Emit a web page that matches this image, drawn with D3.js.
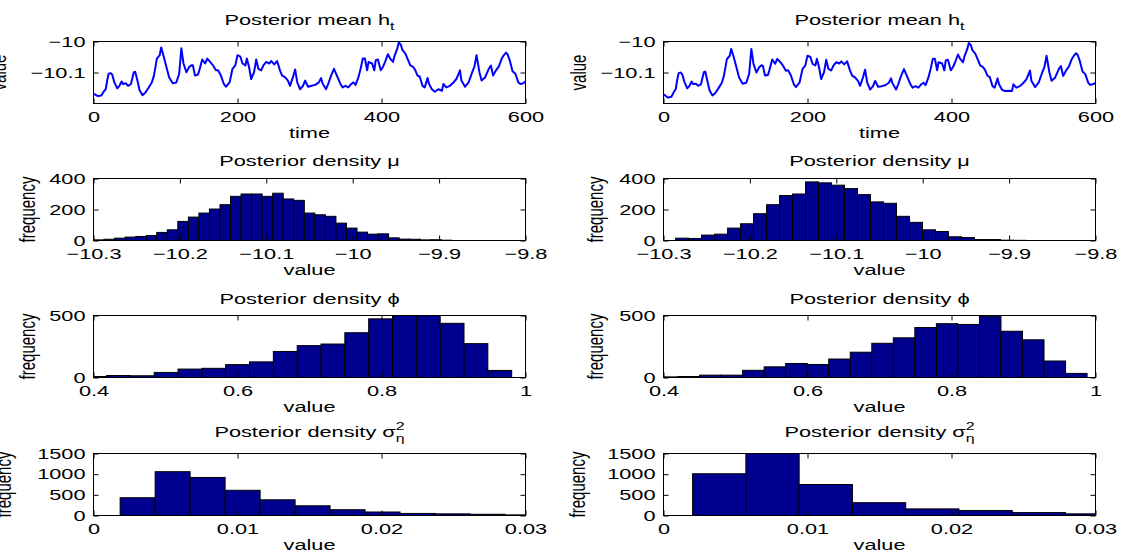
<!DOCTYPE html>
<html>
<head>
<meta charset="utf-8">
<script src="https://cdn.jsdelivr.net/npm/d3@7"></script>
<style>
  html, body { margin: 0; padding: 0; background: #fff; overflow: hidden; }
  svg { display: block; }
  text { font-family: "Liberation Sans", Arial, Helvetica, sans-serif; fill: #000; }
</style>
</head>
<body>
<svg id="fig" width="1128" height="553"></svg>
<script>
// ---- posterior mean of the log-volatility path ----
const timeSteps = [0,6,11,15,17,19,21,24,26,29,33,36,39,41,45,48,52,56,58,61,64,68,72,76,81,84,88,92,94,97,
  100,105,110,115,119,122,125,129,133,136,138,141,145,147,151,155,158,162,166,170,173,177,181,184,189,193,197,
  200,204,207,211,213,216,219,223,226,229,233,236,240,244,247,251,255,259,262,266,270,273,277,280,283,287,291,294,298,
  303,308,313,316,318,323,326,330,334,338,343,346,350,354,358,361,364,368,371,374,377,380,382,387,390,392,395,399,
  402,405,409,412,416,418,422,424,427,429,433,437,440,444,447,450,453,457,460,464,466,470,474,479,484,486,490,495,
  500,504,509,511,516,521,526,529,532,536,539,544,549,552,555,559,563,567,570,573,575,578,582,586,590,593,597,600];

const hMeanLeft = [-10.168,-10.176,-10.174,-10.159,-10.154,-10.126,-10.104,-10.102,-10.107,-10.132,-10.151,-10.143,-10.129,-10.137,-10.135,-10.143,-10.137,-10.099,-10.098,-10.126,-10.157,-10.173,-10.165,-10.151,-10.132,-10.110,-10.055,-10.044,-10.019,-10.044,
  -10.071,-10.115,-10.135,-10.132,-10.104,-10.022,-10.071,-10.099,-10.082,-10.077,-10.077,-10.110,-10.107,-10.093,-10.058,-10.071,-10.055,-10.066,-10.077,-10.093,-10.093,-10.110,-10.137,-10.146,-10.132,-10.088,-10.077,
  -10.044,-10.049,-10.071,-10.077,-10.055,-10.082,-10.121,-10.099,-10.058,-10.088,-10.093,-10.077,-10.066,-10.071,-10.063,-10.074,-10.063,-10.093,-10.110,-10.115,-10.126,-10.143,-10.115,-10.090,-10.132,-10.154,-10.143,-10.126,-10.146,
  -10.143,-10.140,-10.132,-10.118,-10.135,-10.154,-10.137,-10.110,-10.088,-10.110,-10.137,-10.148,-10.143,-10.148,-10.137,-10.132,-10.140,-10.115,-10.088,-10.055,-10.055,-10.093,-10.066,-10.071,-10.093,-10.060,-10.058,-10.093,
  -10.082,-10.066,-10.041,-10.055,-10.066,-10.047,-10.022,-10.003,-10.011,-10.027,-10.038,-10.060,-10.077,-10.082,-10.093,-10.110,-10.113,-10.143,-10.148,-10.118,-10.137,-10.154,-10.162,-10.154,-10.159,-10.137,-10.148,-10.143,
  -10.132,-10.121,-10.093,-10.126,-10.146,-10.132,-10.099,-10.082,-10.044,-10.099,-10.126,-10.115,-10.088,-10.078,-10.110,-10.093,-10.080,-10.055,-10.044,-10.036,-10.041,-10.060,-10.096,-10.104,-10.132,-10.137,-10.135,-10.129];

const hMeanRight = [-10.170,-10.181,-10.178,-10.160,-10.154,-10.124,-10.102,-10.100,-10.106,-10.130,-10.151,-10.143,-10.129,-10.137,-10.136,-10.143,-10.138,-10.099,-10.097,-10.128,-10.158,-10.174,-10.166,-10.152,-10.133,-10.110,-10.057,-10.046,-10.024,-10.046,
  -10.072,-10.116,-10.136,-10.133,-10.104,-10.024,-10.072,-10.100,-10.083,-10.077,-10.078,-10.110,-10.108,-10.093,-10.058,-10.072,-10.056,-10.066,-10.078,-10.094,-10.093,-10.110,-10.138,-10.147,-10.132,-10.089,-10.077,
  -10.046,-10.050,-10.072,-10.077,-10.056,-10.083,-10.121,-10.099,-10.059,-10.088,-10.093,-10.078,-10.067,-10.071,-10.064,-10.074,-10.064,-10.093,-10.110,-10.116,-10.126,-10.143,-10.116,-10.091,-10.133,-10.155,-10.144,-10.127,-10.146,
  -10.144,-10.141,-10.133,-10.119,-10.135,-10.155,-10.138,-10.111,-10.089,-10.111,-10.138,-10.149,-10.144,-10.149,-10.138,-10.133,-10.141,-10.116,-10.089,-10.056,-10.056,-10.093,-10.067,-10.071,-10.093,-10.061,-10.059,-10.093,
  -10.083,-10.067,-10.042,-10.056,-10.067,-10.048,-10.024,-10.005,-10.012,-10.028,-10.039,-10.061,-10.078,-10.083,-10.094,-10.111,-10.114,-10.144,-10.149,-10.119,-10.138,-10.155,-10.160,-10.159,-10.160,-10.138,-10.149,-10.144,
  -10.133,-10.122,-10.094,-10.127,-10.147,-10.133,-10.100,-10.083,-10.046,-10.100,-10.127,-10.116,-10.089,-10.079,-10.111,-10.094,-10.081,-10.057,-10.046,-10.038,-10.042,-10.061,-10.097,-10.106,-10.134,-10.140,-10.137,-10.134];

// ---- histogram counts (equal-width bins: first bin start, bin width, counts) ----
const muLeftStart = -10.3,     muLeftWidth = 0.0122;
const muLeftCounts = [4,8,15,22,26,32,52,69,123,151,177,203,231,285,300,300,285,305,268,259,177,166,156,112,80,54,41,43,17,9,8,4,5,2];
const muRightStart = -10.286,  muRightWidth = 0.01504;
const muRightCounts = [15,13,35,41,80,108,173,231,290,300,378,372,357,335,296,249,240,156,117,69,58,24,19,6,6,2,1];

const phiLeftStart = 0.385,    phiLeftWidth = 0.0331;
const phiLeftCounts = [8,16,14,41,68,74,104,126,210,257,270,361,473,540,560,437,273,57];
const phiRightStart = 0.3903,  phiRightWidth = 0.0299;
const phiRightCounts = [5,8,19,19,58,86,113,105,149,204,276,320,403,434,428,494,373,304,133,33];

const sigLeftStart = 0.00185,  sigLeftWidth = 0.00243;
const sigLeftCounts = [430,1060,920,610,380,235,140,85,50,40,30,15];
const sigRightStart = 0.00202, sigRightWidth = 0.0037;
const sigRightCounts = [1010,1520,750,310,160,120,70,40];

// ---- axis ticks ----
const timeTicks = [0, 200, 400, 600];
const timeTickLabels = ["0", "200", "400", "600"];
const hTicks = [-10.1, -10];
const hTickLabels = ["\u221210.1", "\u221210"];
const muTicks = [-10.3, -10.2, -10.1, -10, -9.9, -9.8];
const muTickLabels = ["\u221210.3", "\u221210.2", "\u221210.1", "\u221210", "\u22129.9", "\u22129.8"];
const muFreqTicks = [0, 200, 400];
const phiTicks = [0.4, 0.6, 0.8, 1];
const phiTickLabels = ["0.4", "0.6", "0.8", "1"];
const phiFreqTicks = [0, 500];
const sigTicks = [0, 0.01, 0.02, 0.03];
const sigTickLabels = ["0", "0.01", "0.02", "0.03"];
const sigFreqTicks = [0, 500, 1000, 1500];

// ---- figure layout ----
const SX = 1.45;         // horizontal stretch of all lettering
const FS = 15;           // font size
const colX = [93.5, 663.5];
const boxW = 432;
const rowY = [41.5, 178.5, 315.5, 453.5];
const boxH = 62;
const BAR_FILL = "#00008f";

const svg = d3.select("#fig");

function hText(parent, x, y, anchor) {
  return parent.append("g")
    .attr("transform", `translate(${x},${y}) scale(${SX},1)`)
    .append("text")
    .attr("text-anchor", anchor || "middle")
    .attr("font-size", FS);
}

function vText(parent, x, y, str) {
  parent.append("g")
    .attr("transform", `translate(${x},${y}) scale(${SX},1) rotate(-90)`)
    .append("text")
    .attr("text-anchor", "middle")
    .attr("dy", "0.35em")
    .attr("font-size", FS)
    .text(str);
}

function styleAxis(sel) {
  sel.attr("font-size", FS).attr("font-family", null);
  sel.select(".domain").remove();
  sel.selectAll(".tick line").attr("stroke", "#000");
}

function panel(col, row, cfg) {
  const x0 = colX[col], y0 = rowY[row];
  const g = svg.append("g").attr("transform", `translate(${x0},${y0})`);
  const x = d3.scaleLinear().domain(cfg.xDomain).range([0, boxW]);
  const y = d3.scaleLinear().domain(cfg.yDomain).range([boxH, 0]);

  const clipId = `clip-${col}-${row}`;
  g.append("clipPath").attr("id", clipId)
    .append("rect").attr("width", boxW).attr("height", boxH);
  const plot = g.append("g").attr("clip-path", `url(#${clipId})`);
  cfg.draw(plot, x, y);

  // bottom axis with labels, ticks pointing inward
  const ax = g.append("g").attr("transform", `translate(0,${boxH})`)
    .call(d3.axisBottom(x).tickValues(cfg.xTicks)
      .tickFormat((d, i) => cfg.xTickLabels[i])
      .tickSizeInner(-5).tickSizeOuter(0).tickPadding(8));
  styleAxis(ax);
  ax.selectAll(".tick text").attr("transform", `scale(${SX},1)`);

  // top axis: ticks only
  const axT = g.append("g")
    .call(d3.axisTop(x).tickValues(cfg.xTicks).tickFormat("")
      .tickSizeInner(-5).tickSizeOuter(0));
  styleAxis(axT);

  // left axis with labels
  const ay = g.append("g")
    .call(d3.axisLeft(y).tickValues(cfg.yTicks)
      .tickFormat((d, i) => cfg.yTickLabels[i])
      .tickSizeInner(-5).tickSizeOuter(0).tickPadding(8));
  styleAxis(ay);
  ay.selectAll(".tick text").attr("x", -8 / SX).attr("transform", `scale(${SX},1)`);

  // right axis: ticks only
  const ayR = g.append("g").attr("transform", `translate(${boxW},0)`)
    .call(d3.axisRight(y).tickValues(cfg.yTicks).tickFormat("")
      .tickSizeInner(-5).tickSizeOuter(0));
  styleAxis(ayR);

  // frame
  g.append("rect").attr("width", boxW).attr("height", boxH)
    .attr("fill", "none").attr("stroke", "#000").attr("stroke-width", 1);

  // x label
  hText(g, boxW / 2, boxH + 34).text(cfg.xLabel);
  // y label
  vText(svg, cfg.yLabelX, y0 + boxH / 2, cfg.yLabel);
  // title
  const t = hText(g, boxW / 2, cfg.titleDy);
  cfg.title(t);
}

function drawLine(times, values) {
  return (plot, x, y) => {
    const line = d3.line().x((d, i) => x(times[i])).y(d => y(d));
    plot.append("path").datum(values)
      .attr("d", line)
      .attr("fill", "none")
      .attr("stroke", "#0000ff")
      .attr("stroke-width", 2)
      .attr("stroke-linejoin", "round");
  };
}

function drawHist(start, width, counts) {
  return (plot, x, y) => {
    plot.selectAll("rect.bar").data(counts).join("rect")
      .attr("class", "bar")
      .attr("x", (d, i) => x(start + i * width))
      .attr("width", (d, i) => x(start + (i + 1) * width) - x(start + i * width))
      .attr("y", d => y(d))
      .attr("height", d => y(0) - y(d))
      .attr("fill", BAR_FILL)
      .attr("stroke", "#000")
      .attr("stroke-width", 1);
  };
}

const titleH = t => {
  t.append("tspan").text("Posterior mean h");
  t.append("tspan").attr("font-size", 11).attr("dy", 5).text("t");
};
const titleMu = t => t.text("Posterior density \u03BC");
const titlePhi = t => t.text("Posterior density \u03D5");
const titleSig = t => {
  t.append("tspan").text("Posterior density \u03C3");
  t.append("tspan").attr("font-size", 11).attr("dy", -7).text("2");
  t.append("tspan").attr("font-size", 11).attr("dx", -6.1).attr("dy", 12).text("\u03B7");
};

const yLabelXs = [[-2, 27, 27, 3], [578, 595, 595, 577]];

[0, 1].forEach(col => {
  const left = col === 0;
  panel(col, 0, {
    xDomain: [0, 600], yDomain: [-10.2, -10],
    xTicks: timeTicks, xTickLabels: timeTickLabels,
    yTicks: hTicks, yTickLabels: hTickLabels,
    xLabel: "time", yLabel: "value", yLabelX: yLabelXs[col][0],
    titleDy: -17, title: titleH,
    draw: drawLine(timeSteps, left ? hMeanLeft : hMeanRight)
  });
  panel(col, 1, {
    xDomain: [-10.3, -9.8], yDomain: [0, 400],
    xTicks: muTicks, xTickLabels: muTickLabels,
    yTicks: muFreqTicks, yTickLabels: muFreqTicks.map(String),
    xLabel: "value", yLabel: "frequency", yLabelX: yLabelXs[col][1],
    titleDy: -13, title: titleMu,
    draw: left ? drawHist(muLeftStart, muLeftWidth, muLeftCounts)
               : drawHist(muRightStart, muRightWidth, muRightCounts)
  });
  panel(col, 2, {
    xDomain: [0.4, 1], yDomain: [0, 500],
    xTicks: phiTicks, xTickLabels: phiTickLabels,
    yTicks: phiFreqTicks, yTickLabels: phiFreqTicks.map(String),
    xLabel: "value", yLabel: "frequency", yLabelX: yLabelXs[col][2],
    titleDy: -12, title: titlePhi,
    draw: left ? drawHist(phiLeftStart, phiLeftWidth, phiLeftCounts)
               : drawHist(phiRightStart, phiRightWidth, phiRightCounts)
  });
  panel(col, 3, {
    xDomain: [0, 0.03], yDomain: [0, 1500],
    xTicks: sigTicks, xTickLabels: sigTickLabels,
    yTicks: sigFreqTicks, yTickLabels: sigFreqTicks.map(String),
    xLabel: "value", yLabel: "frequency", yLabelX: yLabelXs[col][3],
    titleDy: -17, title: titleSig,
    draw: left ? drawHist(sigLeftStart, sigLeftWidth, sigLeftCounts)
               : drawHist(sigRightStart, sigRightWidth, sigRightCounts)
  });
});
</script>
</body>
</html>
